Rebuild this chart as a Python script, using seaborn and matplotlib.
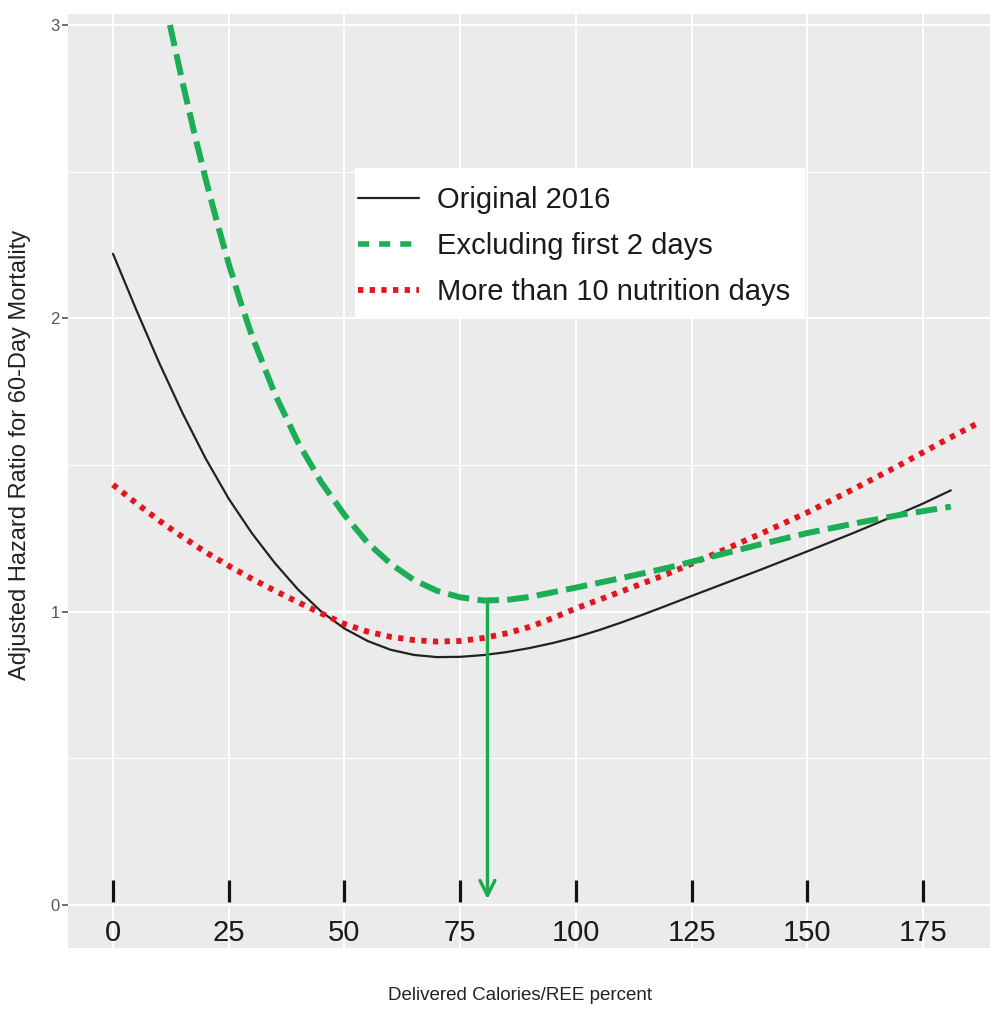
import matplotlib
matplotlib.use("Agg")
import matplotlib.pyplot as plt
from matplotlib.lines import Line2D
from matplotlib.patches import Rectangle
import seaborn as sns
import pandas as pd

# ---------------- data ----------------
x_ticks = [0, 25, 50, 75, 100, 125, 150, 175]
y_ticks = [0, 1, 2, 3]
series_names = ["Original 2016", "Excluding first 2 days", "More than 10 nutrition days"]

x_orig = [0, 5, 10, 15, 20, 25, 30, 35, 40, 45, 50, 55, 60, 65, 70, 75, 80, 85, 90, 95,
          100, 105, 110, 115, 120, 125, 130, 140, 150, 160, 170, 175, 181]
y_orig = [2.22, 2.03, 1.8475, 1.6775, 1.5225, 1.385, 1.2675, 1.165, 1.075, 1.0, 0.9425,
          0.90, 0.87, 0.8525, 0.845, 0.846, 0.852, 0.862, 0.876, 0.893, 0.913, 0.937,
          0.964, 0.993, 1.023, 1.0535, 1.0835, 1.1435, 1.2055, 1.2685, 1.3345, 1.3685,
          1.4135]

x_excl = [12.3, 15, 17.5, 20, 22.5, 25, 27.5, 30, 35, 40, 45, 50, 55, 60, 65, 70, 75, 80,
          85, 90, 100, 110, 120, 130, 140, 150, 160, 170, 181]
y_excl = [3.0, 2.806, 2.636, 2.476, 2.326, 2.186, 2.0585, 1.941, 1.741, 1.576, 1.441, 1.33,
          1.235, 1.163, 1.108, 1.071, 1.049, 1.038, 1.04, 1.05, 1.082, 1.115, 1.15, 1.19,
          1.23, 1.268, 1.3, 1.33, 1.358]

x_more = [0, 5, 10, 15, 20, 25, 30, 35, 40, 45, 50, 55, 60, 65, 70, 75, 80, 85, 90, 95,
          100, 110, 120, 130, 140, 150, 160, 170, 180, 187.5]
y_more = [1.433, 1.37, 1.31, 1.255, 1.203, 1.156, 1.112, 1.071, 1.032, 0.994, 0.958, 0.932,
          0.914, 0.903, 0.898, 0.9, 0.91, 0.926, 0.948, 0.978, 1.011, 1.07, 1.13, 1.197,
          1.266, 1.338, 1.418, 1.5, 1.586, 1.648]

arrow_x = 80.9
arrow_y_start = 1.035
arrow_y_end = 0.02

# ---------------- style ----------------
sns.set_theme(style="darkgrid")
plt.rcParams["font.family"] = ["Liberation Sans", "DejaVu Sans"]

GREEN = "#1BAE55"
RED = "#E2161F"
BG = "#EBEBEB"

fig = plt.figure(figsize=(9.9, 10.14), dpi=100)
ax = fig.add_axes([0.0687, 0.0651, 0.9313, 0.9211])
ax.set_facecolor(BG)
for s in ax.spines.values():
    s.set_visible(False)

ax.set_xlim(-9.72, 189.47)
ax.set_ylim(-0.1466, 3.0375)

ax.set_xticks(x_ticks)
ax.set_yticks(y_ticks)
ax.set_yticks([0.5, 1.5, 2.5], minor=True)
ax.grid(which="major", color="white", linewidth=1.5)
ax.grid(which="minor", axis="y", color="white", linewidth=0.8)
ax.tick_params(axis="x", length=0, labelbottom=False)
ax.tick_params(axis="y", which="major", length=4, width=1.2, color="#555555",
               labelsize=12, labelcolor="#555555", pad=2, left=True)
ax.tick_params(axis="y", which="minor", length=0)

# ---------------- curves ----------------
df_orig = pd.DataFrame({"x": x_orig, "y": y_orig})
df_excl = pd.DataFrame({"x": x_excl, "y": y_excl})
df_more = pd.DataFrame({"x": x_more, "y": y_more})

sns.lineplot(data=df_orig, x="x", y="y", ax=ax, color="#222222", linewidth=1.6,
             sort=False, estimator=None)
sns.lineplot(data=df_more, x="x", y="y", ax=ax, color=RED, linewidth=4.2,
             sort=False, estimator=None)
ax.lines[-1].set_linestyle((0, (0.9, 1.1)))
sns.lineplot(data=df_excl, x="x", y="y", ax=ax, color=GREEN, linewidth=4.3,
             sort=False, estimator=None)
ax.lines[-1].set_linestyle((0, (3.6, 1.4)))
ax.set_xlabel("")
ax.set_ylabel("")

# arrow
ax.annotate("", xy=(arrow_x, arrow_y_end), xytext=(arrow_x, arrow_y_start),
            arrowprops=dict(arrowstyle="->,head_length=0.9,head_width=0.45",
                            color="#1AAA50", lw=2.4, shrinkA=0, shrinkB=0))

# in-panel x tick marks and labels
for t in x_ticks:
    ax.vlines(t, 0.0102, 0.085, color="#111111", linewidth=2.3)
    ax.text(t, -0.0955, str(t), ha="center", va="center", fontsize=21, color="#1a1a1a")

# legend (white box drawn separately)
ax.add_patch(Rectangle((0.311, 0.6744), 0.488, 0.1606, transform=ax.transAxes,
                       facecolor="white", edgecolor="none", zorder=4))
handles = [Line2D([], [], color="#222222", lw=1.6),
           Line2D([], [], color=GREEN, lw=4.0, linestyle=(0, (2.0, 1.8))),
           Line2D([], [], color=RED, lw=4.2, linestyle=(0, (0.9, 1.1)))]
leg = ax.legend(handles, series_names, loc="upper left", bbox_to_anchor=(0.3145, 0.8158),
                fontsize=21, frameon=False, handlelength=2.1, handletextpad=0.6,
                labelspacing=0.62, borderpad=0, borderaxespad=0)
leg.set_zorder(5)
for txt in leg.get_texts():
    txt.set_color("#1a1a1a")

# axis titles
fig.text(520 / 990, 1 - 995 / 1014, "Delivered Calories/REE percent", ha="center",
         va="center", fontsize=13.5, color="#222222")
fig.text(20 / 990, 1 - 455 / 1014, "Adjusted Hazard Ratio for 60-Day Mortality",
         ha="center", va="center", rotation=90, fontsize=17, color="#222222")

fig.savefig("out.png", dpi=100, facecolor="white")
